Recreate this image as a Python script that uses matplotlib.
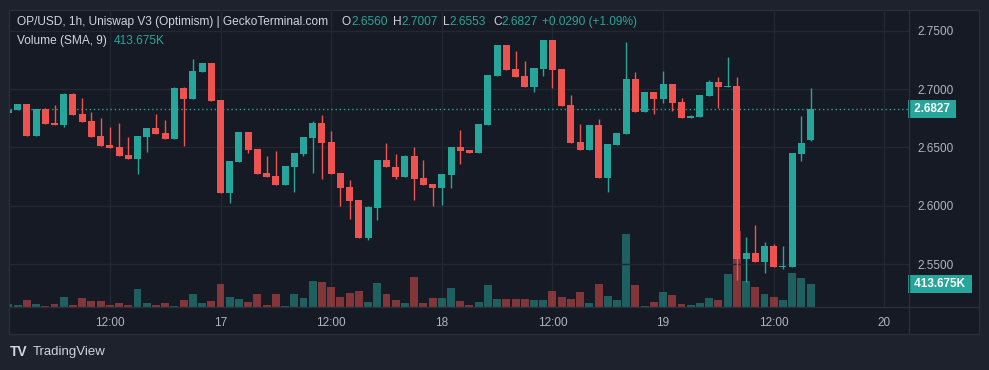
import numpy as np
import matplotlib
matplotlib.use('Agg')
from matplotlib import pyplot as plt
from matplotlib.patches import Rectangle
from matplotlib.lines import Line2D
from matplotlib.transforms import blended_transform_factory

# hour offsets from 17 00:00, one candle per hour
hours = list(range(-23, 65))

opens = [2.6797, 2.6822, 2.6874, 2.6599, 2.6828, 2.6713, 2.6693, 2.6962, 2.6788, 2.6730,
         2.6599, 2.6522, 2.6505, 2.6436, 2.6402, 2.6591, 2.6668, 2.6625, 2.6573, 2.7014,
         2.6917, 2.7151, 2.7225, 2.6908, 2.6113, 2.6379, 2.6633, 2.6488, 2.6282, 2.6256,
         2.6179, 2.6336, 2.6445, 2.6582, 2.6711, 2.6548, 2.6282, 2.6164, 2.6050, 2.5721,
         2.5984, 2.6393, 2.6331, 2.6250, 2.6428, 2.6239, 2.6187, 2.6153, 2.6265, 2.6505,
         2.6479, 2.6453, 2.6694, 2.7114, 2.7380, 2.7174, 2.7114, 2.7020, 2.7174, 2.7423,
         2.7174, 2.6865, 2.6548, 2.6479, 2.6694, 2.6239, 2.6522, 2.6616, 2.7088, 2.6805,
         2.6977, 2.6917, 2.7045, 2.6891, 2.6754, 2.6762, 2.6942, 2.7062, 2.7022, 2.7028,
         2.5544, 2.5598, 2.5518, 2.5655, 2.5475, 2.5475, 2.6445, 2.6560]
highs = [2.6825, 2.6876, 2.6876, 2.6830, 2.6839, 2.6865, 2.6965, 2.6965, 2.6925, 2.6808,
         2.6756, 2.6679, 2.6711, 2.6593, 2.6601, 2.6670, 2.6788, 2.6736, 2.7022, 2.7016,
         2.7260, 2.7227, 2.7227, 2.6910, 2.6387, 2.6635, 2.6635, 2.6490, 2.6430, 2.6473,
         2.6344, 2.6455, 2.6593, 2.6728, 2.6779, 2.6642, 2.6284, 2.6222, 2.6052, 2.5995,
         2.6395, 2.6542, 2.6447, 2.6436, 2.6507, 2.6393, 2.6189, 2.6275, 2.6507, 2.6650,
         2.6481, 2.6704, 2.7125, 2.7382, 2.7382, 2.7328, 2.7243, 2.7185, 2.7425, 2.7425,
         2.7176, 2.6951, 2.6702, 2.6696, 2.6745, 2.6533, 2.6627, 2.7406, 2.7148, 2.6979,
         2.6979, 2.7157, 2.7047, 2.6925, 2.6775, 2.6953, 2.7080, 2.7108, 2.7277, 2.7108,
         2.5733, 2.5836, 2.5690, 2.5672, 2.5655, 2.6455, 2.6771, 2.7007]
lows = [2.6790, 2.6820, 2.6597, 2.6597, 2.6700, 2.6690, 2.6679, 2.6776, 2.6720, 2.6590,
        2.6510, 2.6497, 2.6425, 2.6400, 2.6273, 2.6464, 2.6614, 2.6570, 2.6570, 2.6513,
        2.6915, 2.7149, 2.6900, 2.6110, 2.6027, 2.6377, 2.6456, 2.6270, 2.6245, 2.6177,
        2.6177, 2.6121, 2.6428, 2.6282, 2.6230, 2.6271, 2.5999, 2.5887, 2.5725, 2.5707,
        2.5878, 2.6329, 2.6230, 2.6248, 2.6050, 2.6177, 2.5999, 2.6007, 2.6153, 2.6359,
        2.6451, 2.6451, 2.6692, 2.7112, 2.7163, 2.7103, 2.7015, 2.6977, 2.7114, 2.7011,
        2.6855, 2.6537, 2.6477, 2.6477, 2.6237, 2.6119, 2.6520, 2.6614, 2.6803, 2.6803,
        2.6788, 2.6882, 2.6814, 2.6752, 2.6750, 2.6760, 2.6940, 2.6839, 2.7018, 2.5364,
        2.5346, 2.5519, 2.5424, 2.5473, 2.5458, 2.5473, 2.6385, 2.6553]
closes = [2.6822, 2.6874, 2.6599, 2.6828, 2.6702, 2.6693, 2.6962, 2.6779, 2.6722, 2.6593,
          2.6513, 2.6499, 2.6428, 2.6402, 2.6599, 2.6668, 2.6616, 2.6573, 2.7014, 2.6917,
          2.7157, 2.7225, 2.6902, 2.6113, 2.6385, 2.6633, 2.6479, 2.6273, 2.6247, 2.6179,
          2.6342, 2.6453, 2.6591, 2.6711, 2.6539, 2.6273, 2.6156, 2.6044, 2.5727, 2.5993,
          2.6393, 2.6331, 2.6250, 2.6428, 2.6230, 2.6179, 2.6153, 2.6273, 2.6505, 2.6470,
          2.6453, 2.6702, 2.7123, 2.7380, 2.7165, 2.7105, 2.7017, 2.7183, 2.7423, 2.7165,
          2.6857, 2.6539, 2.6479, 2.6694, 2.6239, 2.6531, 2.6625, 2.7088, 2.6805, 2.6977,
          2.6917, 2.7045, 2.6882, 2.6754, 2.6771, 2.6951, 2.7062, 2.7022, 2.7028, 2.5544,
          2.5595, 2.5521, 2.5655, 2.5475, 2.5484, 2.6453, 2.6539, 2.6827]
# volume in thousands
volumes = [53, 30, 130, 59, 23, 59, 183, 41, 165, 112,
           112, 41, 76, 41, 325, 76, 41, 76, 23, 130,
           236, 76, 112, 414, 183, 147, 94, 236, 41, 236,
           23, 236, 165, 467, 449, 360, 183, 254, 289, 94,
           431, 236, 130, 76, 538, 76, 165, 165, 343, 112,
           41, 94, 396, 147, 147, 147, 147, 130, 130, 289,
           183, 147, 272, 76, 414, 201, 130, 1301, 396, 23,
           94, 272, 218, 59, 41, 76, 165, 130, 591, 1344,
           467, 360, 236, 183, 130, 609, 520, 413.675]

tick_pos = [-12, 0, 12, 24, 36, 48, 60, 72]
tick_labels = ['12:00', '17', '12:00', '18', '12:00', '19', '12:00', '20']
price_ticks = [2.55, 2.60, 2.65, 2.70, 2.75]
last_price = 2.6827
last_volume = 413.675

UP = '#26a69a'
DOWN = '#ef5350'
BG_OUT = '#1e222d'
BG_IN = '#161a25'
GRID = '#232732'
BORDER = '#2a2e39'
TXT = '#b2b5be'
FG = '#d1d4dc'

W, H = 989, 370
plt.rcParams['font.family'] = ['Liberation Sans', 'DejaVu Sans']


def px(x, y):
    # pixel (from top-left) -> figure fraction
    return x / W, 1 - y / H


def main():
    fig = plt.figure(figsize=(W / 100, H / 100), dpi=100, facecolor=BG_OUT)

    # chart frame
    fig.patches.append(Rectangle(px(9, 334), 970 / W, 324 / H, transform=fig.transFigure,
                                 facecolor=BG_IN, edgecolor=BORDER, lw=1, zorder=-2))
    fig.lines.append(Line2D([909 / W, 909 / W], [1 - 10 / H, 1 - 334 / H],
                            transform=fig.transFigure, color=BORDER, lw=1))
    fig.lines.append(Line2D([9 / W, 979 / W], [1 - 307 / H, 1 - 307 / H],
                            transform=fig.transFigure, color=BORDER, lw=1))

    left, bottom = px(10, 307)
    ax_v = fig.add_axes([left, bottom, 899 / W, 297 / H])
    ax_v.set_facecolor('none')
    ax_p = ax_v.twinx()

    x = np.array(hours)
    o = np.array(opens); c = np.array(closes)
    hi = np.array(highs); lo = np.array(lows)
    up = c >= o
    cols = np.where(up, UP, DOWN)

    # volume pane
    ax_v.bar(x, volumes, width=0.86, color=cols, alpha=0.5, linewidth=0)
    ax_v.set_ylim(0, 297 * 17.75)
    ax_v.set_xlim(-22.83, 74.67)
    ax_v.set_yticks([])
    ax_v.set_xticks(tick_pos)
    ax_v.set_xticklabels(tick_labels)
    ax_v.tick_params(axis='x', length=0, pad=7, colors=TXT, labelsize=8.5)
    ax_v.grid(axis='x', color=GRID, lw=1)
    ax_v.set_axisbelow(True)

    # candles
    ax_p.vlines(x, lo, hi, colors=cols, lw=1, zorder=3)
    body_lo = np.minimum(o, c)
    body_h = np.maximum(np.abs(c - o), 0.0009)
    ax_p.bar(x, body_h, bottom=body_lo, width=0.76, color=cols, linewidth=0, zorder=4)
    ax_p.set_ylim(2.5131, 2.7680)
    ax_p.set_yticks(price_ticks)
    ax_p.set_yticklabels(['%.4f' % p for p in price_ticks])
    ax_p.tick_params(axis='y', length=0, pad=6, colors=TXT, labelsize=8.5)
    ax_p.grid(axis='y', color=GRID, lw=1, zorder=0)
    ax_p.axhline(last_price, color=UP, lw=1, ls=(0, (1, 2)), zorder=2)

    for a in (ax_v, ax_p):
        for s in a.spines.values():
            s.set_visible(False)

    # right axis labels
    tr = blended_transform_factory(ax_p.transAxes, ax_p.transData)
    ax_p.text(1.0025, last_price, ' 2.6827 ', transform=tr, color='white', fontsize=8.5,
              fontweight='bold', va='center', ha='left',
              bbox=dict(boxstyle='square,pad=0.25', fc=UP, ec='none'))
    tr_v = blended_transform_factory(ax_v.transAxes, ax_v.transData)
    ax_v.text(1.0025, last_volume, ' 413.675K ', transform=tr_v, color='white', fontsize=8.5,
              fontweight='bold', va='center', ha='left', zorder=10,
              bbox=dict(boxstyle='square,pad=0.25', fc=UP, ec='none'))

    # legend rows
    fs = 8.6
    fig.text(*px(17, 22), 'OP/USD, 1h, Uniswap V3 (Optimism) | GeckoTerminal.com',
             color=FG, fontsize=fs, va='center')
    r = fig.canvas.get_renderer()
    for xp, lab, val in [(342, 'O', '2.6560'), (393, 'H', '2.7007'),
                         (443, 'L', '2.6553'), (493, 'C', '2.6827')]:
        t = fig.text(*px(xp, 22), lab, color=FG, fontsize=fs, va='center')
        wl = t.get_window_extent(r).width
        fig.text(*px(xp + wl, 22), val, color=UP, fontsize=fs, va='center')
    fig.text(*px(542, 22), '+0.0290 (+1.09%)', color=UP, fontsize=fs, va='center')
    fig.text(*px(17, 41), 'Volume (SMA, 9)', color=FG, fontsize=fs, va='center')
    fig.text(*px(114, 41), '413.675K', color=UP, fontsize=fs, va='center')

    # footer
    fig.text(*px(10, 352), 'TV', color=FG, fontsize=10, fontweight='heavy', va='center')
    fig.text(*px(33, 352), 'TradingView', color=FG, fontsize=9.5, va='center')

    fig.savefig('out.png', dpi=100, facecolor=BG_OUT)


if __name__ == '__main__':
    main()
